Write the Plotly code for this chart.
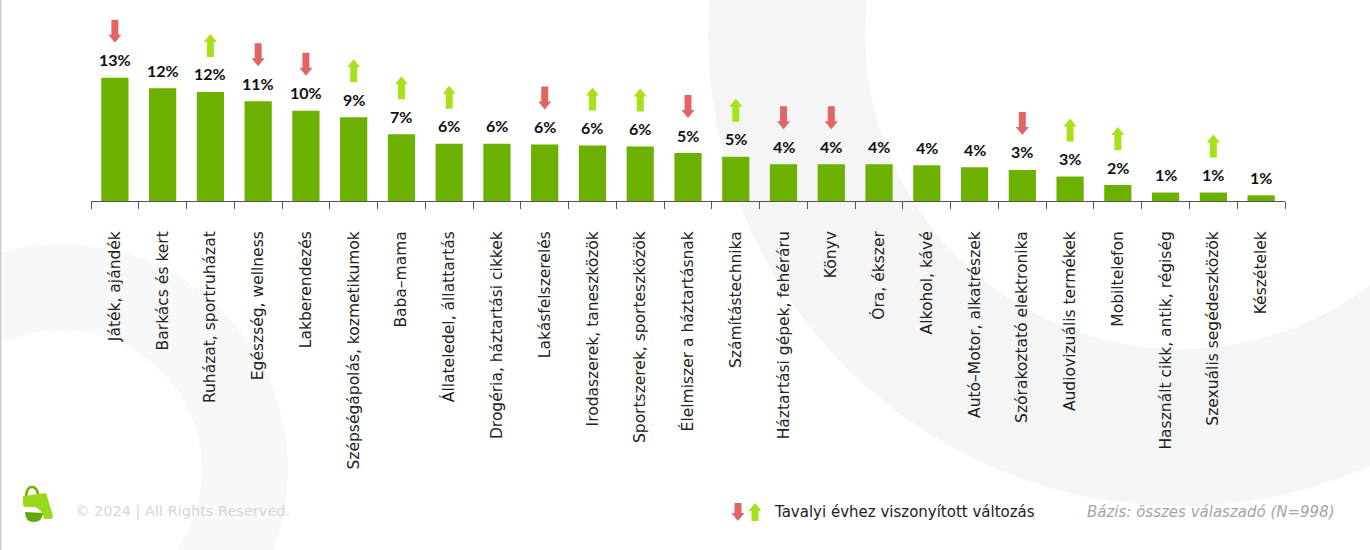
import plotly.graph_objects as go
import numpy as np

categories = [
    "Játék, ajándék", "Barkács és kert", "Ruházat, sportruházat", "Egészség, wellness",
    "Lakberendezés", "Szépségápolás, kozmetikumok", "Baba–mama", "Állateledel, állattartás",
    "Drogéria, háztartási cikkek", "Lakásfelszerelés", "Irodaszerek, taneszközök",
    "Sportszerek, sporteszközök", "Élelmiszer a háztartásnak", "Számítástechnika",
    "Háztartási gépek, fehéráru", "Könyv", "Óra, ékszer", "Alkohol, kávé",
    "Autó–Motor, alkatrészek", "Szórakoztató elektronika", "Audiovizuális termékek",
    "Mobiltelefon", "Használt cikk, antik, régiség", "Szexuális segédeszközök", "Készételek",
]
values = [13.1, 12.0, 11.6, 10.6, 9.6, 8.9, 7.1, 6.1, 6.1, 6.0, 5.9, 5.8, 5.1, 4.7,
          3.9, 3.9, 3.9, 3.8, 3.6, 3.3, 2.6, 1.7, 0.9, 0.9, 0.6]
changes = ["down", "", "up", "down", "down", "up", "up", "up", "", "down", "up", "up",
           "down", "up", "down", "down", "", "", "", "down", "up", "up", "", "up", ""]

legend_text = "Tavalyi évhez viszonyított változás"
base_text = "Bázis: összes válaszadó (N=998)"
copyright_text = "© 2024 | All Rights Reserved."

W, H = 1370, 550
ML, MR, MT, MB = 91, 85, 10, 349
PW = W - ML - MR
PH = H - MT - MB


def px(x):
    return (x - ML) / PW


def py(y):
    return (H - MB - y) / PH


BAR = "#6cb000"
RED = "#e06565"
LIME = "#a8e01a"
FONT = "DejaVu Sans"


def arrow_path(direction, lift=0, L=23):
    sw, hw, hh = 3.5, 6.5, 8
    if direction == "down":
        pts = [(-sw, L), (sw, L), (sw, hh), (hw, hh), (0, 0), (-hw, hh), (-sw, hh)]
    else:
        pts = [(-sw, 0), (sw, 0), (sw, L - hh), (hw, L - hh), (0, L), (-hw, L - hh), (-sw, L - hh)]
    return "M " + " L ".join(f"{x},{y + lift}" for x, y in pts) + " Z"


fig = go.Figure()
fig.add_trace(go.Bar(x=categories, y=values, marker=dict(color=BAR, line=dict(width=0)),
                     hoverinfo="x+y"))

shapes = []


def circle(cx, cy, r, color):
    return dict(type="circle", xref="paper", yref="paper", layer="below",
                x0=px(cx - r), x1=px(cx + r), y0=py(cy + r), y1=py(cy - r),
                fillcolor=color, line=dict(width=0))


# decorative background rings
shapes.append(circle(1180, 34, 472, "#f5f5f5"))
shapes.append(circle(1180, 34, 315, "#ffffff"))
shapes.append(circle(62, 470, 226, "#f8f8f8"))
shapes.append(circle(62, 470, 140, "#ffffff"))
shapes.append(dict(type="line", xref="paper", yref="paper", layer="below",
                   x0=px(0.5), x1=px(0.5), y0=py(0), y1=py(H), line=dict(color="#c8c8c8", width=1.5)))

# change arrows above bars
for cat, val, ch in zip(categories, values, changes):
    if not ch:
        continue
    shapes.append(dict(type="path", xref="x", yref="y", xsizemode="pixel", ysizemode="pixel",
                       xanchor=cat, yanchor=val, path=arrow_path(ch, 35),
                       fillcolor=RED if ch == "down" else LIME, line=dict(width=0)))

# legend arrows
for xx, ch in [(738, "down"), (755, "up")]:
    shapes.append(dict(type="path", xref="paper", yref="paper", xsizemode="pixel", ysizemode="pixel",
                       xanchor=px(xx), yanchor=py(521), path=arrow_path(ch, 0, 18),
                       fillcolor=RED if ch == "down" else LIME, line=dict(width=0)))


# logo
def ppath(pts_str):
    out = []
    for tok in pts_str.split():
        if "," in tok:
            a, b = tok.split(",")
            out.append(f"{px(float(a)):.5f},{py(float(b)):.5f}")
        else:
            out.append(tok)
    return " ".join(out)


shapes.append(dict(type="path", xref="paper", yref="paper",
                   path=ppath("M 23,496 L 46,493 L 53,516 Q 53,519 50,519 L 44,519 Q 43,510 35,507 L 26,507 Q 23,507 23,504 Z"),
                   fillcolor="#9ad81c", line=dict(width=0)))
shapes.append(dict(type="path", xref="paper", yref="paper",
                   path=ppath("M 25,512 L 43,513 Q 42,522 34,522 Q 25,522 25,512 Z"),
                   fillcolor="#62a80a", line=dict(width=0)))
shapes.append(dict(type="path", xref="paper", yref="paper",
                   path=ppath("M 26,496 Q 27,486 33,487 Q 37,488 38,494"),
                   line=dict(color="#6cb000", width=2.5)))

annotations = []
for cat, val in zip(categories, values):
    annotations.append(dict(x=cat, y=val, xref="x", yref="y", text=f"{val:.0f}%",
                            showarrow=False, yanchor="middle", yshift=18,
                            font=dict(family="Lato", size=16, color="#111111", weight="bold")))

annotations.append(dict(xref="paper", yref="paper", x=px(772), y=py(512), xanchor="left",
                        yanchor="middle", text=legend_text, showarrow=False,
                        font=dict(family=FONT, size=15, color="#222222")))
annotations.append(dict(xref="paper", yref="paper", x=px(1337), y=py(512), xanchor="right",
                        yanchor="middle", text=base_text, showarrow=False,
                        font=dict(family=FONT, size=15, color="#a5a5a5", style="italic")))
annotations.append(dict(xref="paper", yref="paper", x=px(73), y=py(511), xanchor="left",
                        yanchor="middle", text=copyright_text, showarrow=False,
                        font=dict(family=FONT, size=14.5, color="#d6d6d6")))

fig.update_layout(
    width=W, height=H, autosize=False,
    margin=dict(l=ML, r=MR, t=MT, b=MB),
    paper_bgcolor="#ffffff", plot_bgcolor="rgba(0,0,0,0)",
    showlegend=False, bargap=0.43,
    shapes=shapes, annotations=annotations,
    font=dict(family=FONT, color="#222222"),
    xaxis=dict(type="category", showline=True, linecolor="#555555", linewidth=1,
               ticks="outside", tickson="boundaries", ticklen=7, tickcolor="#555555",
               tickangle=-90, tickfont=dict(family=FONT, size=15.5, color="#222222"),
               ticklabelstandoff=23, showgrid=False, zeroline=False, fixedrange=True),
    yaxis=dict(range=[0, PH / 9.4], visible=False, showgrid=False, zeroline=False, fixedrange=True),
)

fig.write_html("out.html", config={"displayModeBar": False},
               post_script="document.body.style.margin='0';document.body.style.overflow='hidden';")
